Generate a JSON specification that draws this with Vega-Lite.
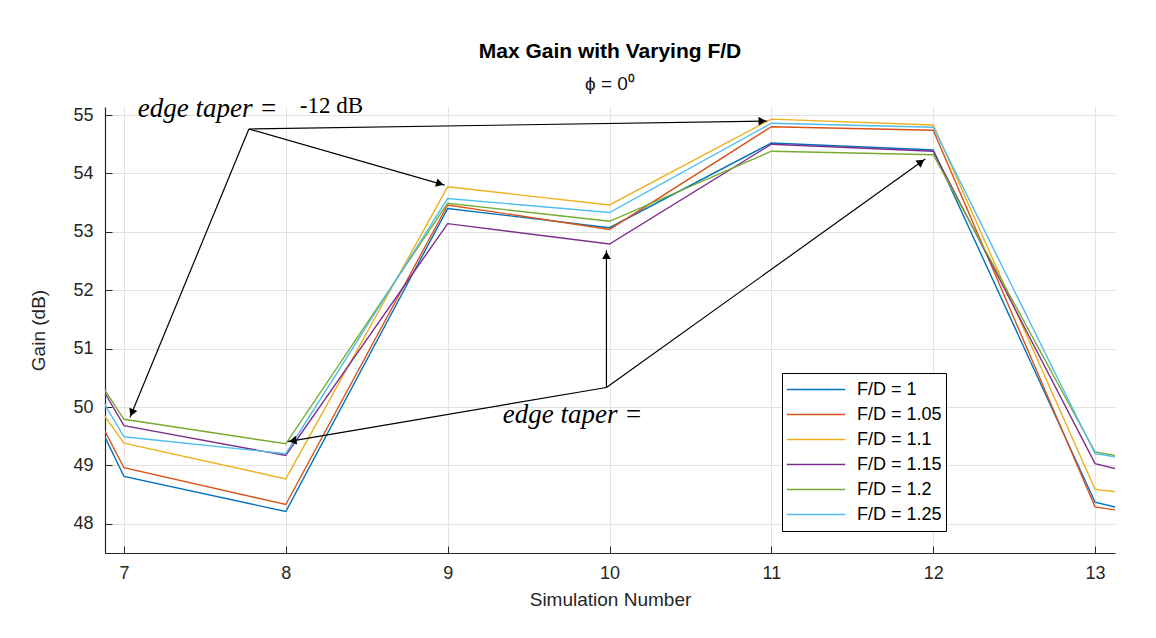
{
  "$schema": "https://vega.github.io/schema/vega-lite/v6.json",
  "width": 1010,
  "height": 446,
  "autosize": "none",
  "padding": {"left": 105, "top": 107, "right": 41, "bottom": 85},
  "background": "#ffffff",
  "config": {
    "view": {"stroke": null},
    "font": "Liberation Sans",
    "axis": {
      "domainColor": "#262626",
      "domainWidth": 1.2,
      "tickColor": "#262626",
      "tickSize": -7,
      "tickWidth": 1,
      "gridColor": "#e3e3e3",
      "gridWidth": 1,
      "labelFont": "Liberation Sans",
      "labelFontSize": 18,
      "labelColor": "#262626",
      "titleFont": "Liberation Sans",
      "titleFontSize": 19,
      "titleFontWeight": "normal",
      "titleColor": "#262626"
    }
  },
  "title": {
    "text": "Max Gain with Varying F/D",
    "subtitle": "ϕ = 0⁰",
    "font": "Liberation Sans",
    "fontSize": 21,
    "fontWeight": "bold",
    "color": "#000000",
    "subtitleFont": "Liberation Sans",
    "subtitleFontSize": 19,
    "subtitleColor": "#111111",
    "subtitlePadding": 13,
    "anchor": "middle",
    "offset": 1
  },
  "layer": [
    {
      "data": {
        "values": [
          {"sim": 6, "gain": 54.56, "fd": "F/D = 1"},
          {"sim": 7, "gain": 48.81, "fd": "F/D = 1"},
          {"sim": 8, "gain": 48.21, "fd": "F/D = 1"},
          {"sim": 9, "gain": 53.40, "fd": "F/D = 1"},
          {"sim": 10, "gain": 53.07, "fd": "F/D = 1"},
          {"sim": 11, "gain": 54.52, "fd": "F/D = 1"},
          {"sim": 12, "gain": 54.40, "fd": "F/D = 1"},
          {"sim": 13, "gain": 48.37, "fd": "F/D = 1"},
          {"sim": 14, "gain": 47.70, "fd": "F/D = 1"},
          {"sim": 6, "gain": 54.29, "fd": "F/D = 1.05"},
          {"sim": 7, "gain": 48.96, "fd": "F/D = 1.05"},
          {"sim": 8, "gain": 48.33, "fd": "F/D = 1.05"},
          {"sim": 9, "gain": 53.46, "fd": "F/D = 1.05"},
          {"sim": 10, "gain": 53.04, "fd": "F/D = 1.05"},
          {"sim": 11, "gain": 54.80, "fd": "F/D = 1.05"},
          {"sim": 12, "gain": 54.74, "fd": "F/D = 1.05"},
          {"sim": 13, "gain": 48.29, "fd": "F/D = 1.05"},
          {"sim": 14, "gain": 47.87, "fd": "F/D = 1.05"},
          {"sim": 6, "gain": 53.30, "fd": "F/D = 1.1"},
          {"sim": 7, "gain": 49.38, "fd": "F/D = 1.1"},
          {"sim": 8, "gain": 48.77, "fd": "F/D = 1.1"},
          {"sim": 9, "gain": 53.77, "fd": "F/D = 1.1"},
          {"sim": 10, "gain": 53.46, "fd": "F/D = 1.1"},
          {"sim": 11, "gain": 54.93, "fd": "F/D = 1.1"},
          {"sim": 12, "gain": 54.83, "fd": "F/D = 1.1"},
          {"sim": 13, "gain": 48.59, "fd": "F/D = 1.1"},
          {"sim": 14, "gain": 48.26, "fd": "F/D = 1.1"},
          {"sim": 6, "gain": 54.43, "fd": "F/D = 1.15"},
          {"sim": 7, "gain": 49.68, "fd": "F/D = 1.15"},
          {"sim": 8, "gain": 49.17, "fd": "F/D = 1.15"},
          {"sim": 9, "gain": 53.14, "fd": "F/D = 1.15"},
          {"sim": 10, "gain": 52.79, "fd": "F/D = 1.15"},
          {"sim": 11, "gain": 54.50, "fd": "F/D = 1.15"},
          {"sim": 12, "gain": 54.38, "fd": "F/D = 1.15"},
          {"sim": 13, "gain": 49.03, "fd": "F/D = 1.15"},
          {"sim": 14, "gain": 48.36, "fd": "F/D = 1.15"},
          {"sim": 6, "gain": 54.04, "fd": "F/D = 1.2"},
          {"sim": 7, "gain": 49.79, "fd": "F/D = 1.2"},
          {"sim": 8, "gain": 49.37, "fd": "F/D = 1.2"},
          {"sim": 9, "gain": 53.49, "fd": "F/D = 1.2"},
          {"sim": 10, "gain": 53.18, "fd": "F/D = 1.2"},
          {"sim": 11, "gain": 54.38, "fd": "F/D = 1.2"},
          {"sim": 12, "gain": 54.32, "fd": "F/D = 1.2"},
          {"sim": 13, "gain": 49.23, "fd": "F/D = 1.2"},
          {"sim": 14, "gain": 48.73, "fd": "F/D = 1.2"},
          {"sim": 6, "gain": 54.15, "fd": "F/D = 1.25"},
          {"sim": 7, "gain": 49.49, "fd": "F/D = 1.25"},
          {"sim": 8, "gain": 49.20, "fd": "F/D = 1.25"},
          {"sim": 9, "gain": 53.57, "fd": "F/D = 1.25"},
          {"sim": 10, "gain": 53.33, "fd": "F/D = 1.25"},
          {"sim": 11, "gain": 54.86, "fd": "F/D = 1.25"},
          {"sim": 12, "gain": 54.79, "fd": "F/D = 1.25"},
          {"sim": 13, "gain": 49.20, "fd": "F/D = 1.25"},
          {"sim": 14, "gain": 48.78, "fd": "F/D = 1.25"}
        ]
      },
      "mark": {"type": "line", "clip": true, "strokeWidth": 1.4},
      "encoding": {
        "x": {
          "field": "sim", "type": "quantitative",
          "scale": {"domain": [6.883, 13.123], "nice": false, "zero": false},
          "axis": {"values": [7, 8, 9, 10, 11, 12, 13], "format": "d", "title": "Simulation Number", "labelPadding": 18, "titlePadding": 8}
        },
        "y": {
          "field": "gain", "type": "quantitative",
          "scale": {"domain": [47.5, 55.137], "nice": false, "zero": false},
          "axis": {"values": [48, 49, 50, 51, 52, 53, 54, 55], "format": "d", "title": "Gain (dB)", "labelPadding": 19, "titlePadding": 24}
        },
        "color": {
          "field": "fd", "type": "nominal",
          "scale": {
            "domain": ["F/D = 1", "F/D = 1.05", "F/D = 1.1", "F/D = 1.15", "F/D = 1.2", "F/D = 1.25"],
            "range": ["#0072BD", "#D95319", "#EDB120", "#7E2F8E", "#77AC30", "#4DBEEE"]
          },
          "legend": {
            "orient": "none",
            "legendX": 677,
            "legendY": 266,
            "title": null,
            "symbolType": "stroke",
            "symbolSize": 3400,
            "symbolStrokeWidth": 1.5,
            "clipHeight": 25,
            "rowPadding": 0,
            "labelFont": "Liberation Sans",
            "labelFontSize": 18,
            "labelColor": "#000000",
            "labelOffset": 11,
            "padding": 4,
            "strokeColor": "#000000",
            "fillColor": "#ffffff"
          }
        }
      }
    },
    {
      "data": {
        "values": [
          {"x": 7.772, "y": 54.760, "x2": 10.975, "y2": 54.897},
          {"x": 7.772, "y": 54.760, "x2": 8.981, "y2": 53.799},
          {"x": 7.772, "y": 54.760, "x2": 7.037, "y2": 49.820},
          {"x": 9.981, "y": 50.334, "x2": 9.981, "y2": 52.684},
          {"x": 9.981, "y": 50.334, "x2": 8.012, "y2": 49.408},
          {"x": 9.981, "y": 50.334, "x2": 11.951, "y2": 54.245}
        ]
      },
      "mark": {"type": "rule", "color": "#000000", "strokeWidth": 1.2},
      "encoding": {
        "x": {"field": "x", "type": "quantitative"},
        "y": {"field": "y", "type": "quantitative"},
        "x2": {"field": "x2"},
        "y2": {"field": "y2"}
      }
    },
    {
      "data": {
        "values": [
          {"x": 10.944, "y": 54.895, "arrow": "a1"},
          {"x": 8.952, "y": 53.823, "arrow": "a2"},
          {"x": 7.049, "y": 49.899, "arrow": "a3"},
          {"x": 9.981, "y": 52.599, "arrow": "b1"},
          {"x": 8.043, "y": 49.422, "arrow": "b2"},
          {"x": 11.925, "y": 54.196, "arrow": "b3"}
        ]
      },
      "mark": {"type": "point", "shape": "triangle-up", "filled": true, "color": "#000000", "size": 75, "opacity": 1},
      "encoding": {
        "x": {"field": "x", "type": "quantitative"},
        "y": {"field": "y", "type": "quantitative"},
        "angle": {
          "field": "arrow", "type": "ordinal", "legend": null,
          "scale": {"type": "ordinal", "domain": ["a1", "a2", "a3", "b1", "b2", "b3"], "range": [89, 106, 202.5, 0, 260.4, 54.4]}
        }
      }
    },
    {
      "data": {
        "values": [
          {"x": 7.086, "y": 54.966, "label": "edge taper ="},
          {"x": 9.340, "y": 49.734, "label": "edge taper ="}
        ]
      },
      "mark": {"type": "text", "font": "Liberation Serif", "fontStyle": "italic", "fontSize": 27, "align": "left", "baseline": "alphabetic", "color": "#000000"},
      "encoding": {
        "x": {"field": "x", "type": "quantitative"},
        "y": {"field": "y", "type": "quantitative"},
        "text": {"field": "label"}
      }
    },
    {
      "data": {
        "values": [
          {"x": 8.086, "y": 55.034, "label": "-12 dB"}
        ]
      },
      "mark": {"type": "text", "font": "Liberation Serif", "fontSize": 23, "align": "left", "baseline": "alphabetic", "color": "#000000"},
      "encoding": {
        "x": {"field": "x", "type": "quantitative"},
        "y": {"field": "y", "type": "quantitative"},
        "text": {"field": "label"}
      }
    }
  ]
}
